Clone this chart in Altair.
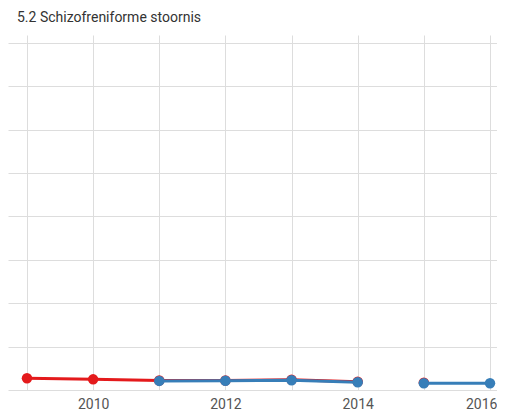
import altair as alt
import pandas as pd

# Data (arbitrary units; y axis has no labels)
red_years = [2009, 2010, 2011, 2012, 2013, 2014, 2015]
red_values = [0.27, 0.245, 0.22, 0.22, 0.235, 0.19, 0.17]
red_segments = [1, 1, 1, 1, 1, 1, 2]

blue_years = [2011, 2012, 2013, 2014, 2015, 2016]
blue_values = [0.21, 0.215, 0.225, 0.18, 0.155, 0.155]
blue_segments = [1, 1, 1, 1, 2, 2]

series_names = ["rood", "blauw"]
series_colors = ["#e41a1c", "#377eb8"]

grid_years = [2009, 2010, 2011, 2012, 2013, 2014, 2015, 2016]
grid_y = [0, 1, 2, 3, 4, 5, 6, 7, 8]

rows = []
for y, v, s in zip(red_years, red_values, red_segments):
    rows.append({"jaar": y, "waarde": v, "reeks": series_names[0], "seg": f"{series_names[0]}-{s}"})
for y, v, s in zip(blue_years, blue_values, blue_segments):
    rows.append({"jaar": y, "waarde": v, "reeks": series_names[1], "seg": f"{series_names[1]}-{s}"})
df = pd.DataFrame(rows)

x_enc = alt.X(
    "jaar:Q",
    scale=alt.Scale(domain=[2008.713, 2016.106], nice=False, zero=False),
    axis=alt.Axis(
        values=grid_years,
        format="d",
        labelExpr="datum.value % 2 == 0 ? datum.label : ''",
        labelAlign=alt.ExprRef("datum.value == 2016 ? 'right' : 'center'"),
        labelOffset=alt.ExprRef("datum.value == 2016 ? 7 : 0"),
        domain=False,
        ticks=False,
        grid=True,
        gridColor="#dddddd",
        labelFont="Roboto",
        labelFontSize=14,
        labelColor="#555555",
        labelPadding=7,
        labelOverlap=False,
        labelBound=False,
        labelFlush=False,
        title=None,
    ),
)
y_enc = alt.Y(
    "waarde:Q",
    scale=alt.Scale(domain=[0, 8.18], nice=False),
    axis=alt.Axis(
        values=grid_y,
        labels=False,
        domain=False,
        ticks=False,
        grid=True,
        gridColor="#dddddd",
        title=None,
    ),
)
color_enc = alt.Color(
    "reeks:N",
    scale=alt.Scale(domain=series_names, range=series_colors),
    legend=None,
)

base = alt.Chart(df).encode(x=x_enc, y=y_enc, color=color_enc)

lines = base.mark_line(strokeWidth=3).encode(detail="seg:N")
points = base.mark_circle(size=110, opacity=1)

red_layer = alt.layer(
    lines.transform_filter(alt.datum.reeks == "rood"),
    points.transform_filter(alt.datum.reeks == "rood"),
)
blue_layer = alt.layer(
    lines.transform_filter(alt.datum.reeks == "blauw"),
    points.transform_filter(alt.datum.reeks == "blauw"),
)

chart = (
    alt.layer(red_layer, blue_layer)
    .properties(
        width=489,
        height=355,
        title=alt.TitleParams(
            text="5.2 Schizofreniforme stoornis",
            anchor="start",
            font="Roboto",
            fontSize=14,
            fontWeight="normal",
            color="#333333",
            dx=9,
            offset=10,
        ),
        autosize=alt.AutoSizeParams(type="none"),
        padding={"left": 0, "top": 27, "right": 0, "bottom": 20},
    )
    .configure_view(stroke=None)
)

chart.save("out.html", embed_options={"renderer": "svg", "actions": False})
